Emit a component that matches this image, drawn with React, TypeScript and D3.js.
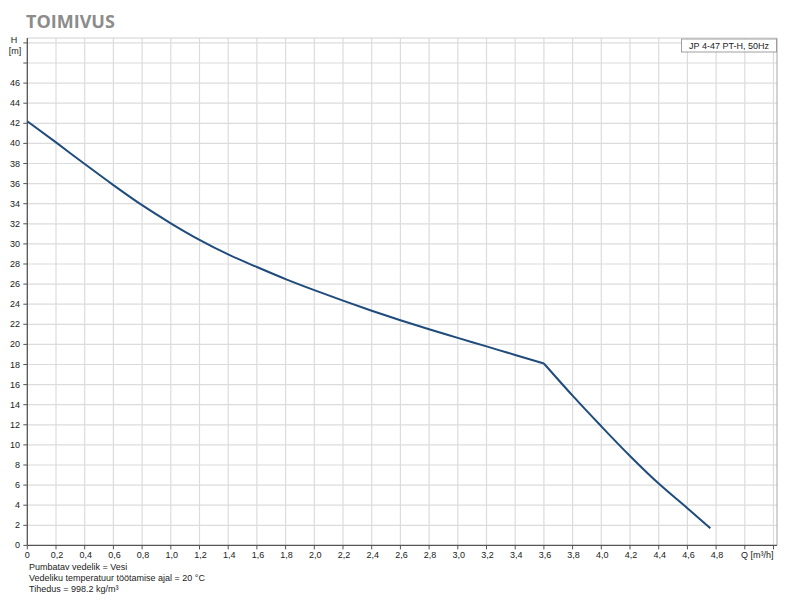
import React from "react";
import * as d3 from "d3";

const qMain = [0, 0.2, 0.4, 0.6, 0.8, 1.0, 1.2, 1.4, 1.6, 1.8, 2.0, 2.2, 2.4, 2.6, 2.8, 3.0, 3.2, 3.4, 3.6];
const hMain = [42.2, 40.1, 37.95, 35.85, 33.85, 32.05, 30.4, 28.95, 27.7, 26.5, 25.4, 24.35, 23.35, 22.4, 21.5, 20.65, 19.8, 18.95, 18.1];
const qTail = [3.6, 3.8, 4.0, 4.2, 4.4, 4.6, 4.76];
const hTail = [18.1, 14.9, 11.85, 8.9, 6.15, 3.7, 1.7];

const xTicks = [0, 0.2, 0.4, 0.6, 0.8, 1.0, 1.2, 1.4, 1.6, 1.8, 2.0, 2.2, 2.4, 2.6, 2.8, 3.0, 3.2, 3.4, 3.6, 3.8, 4.0, 4.2, 4.4, 4.6, 4.8, 5.0, 5.2];
const xLabelled = 4.8;
const yTicks = [0, 2, 4, 6, 8, 10, 12, 14, 16, 18, 20, 22, 24, 26, 28, 30, 32, 34, 36, 38, 40, 42, 44, 46, 48, 50];
const yLabelMax = 46;

const title = "TOIMIVUS";
const legendText = "JP 4-47 PT-H, 50Hz";
const notes = ["Pumbatav vedelik = Vesi", "Vedeliku temperatuur töötamise ajal = 20 °C", "Tihedus = 998.2 kg/m³"];

export default function App() {
  const left = 27.3, right = 777, top = 38, bottom = 545.4;
  const x = d3.scaleLinear().domain([0, (right - left) / 143.5]).range([left, right]);
  const y = d3.scaleLinear().domain([0, (bottom - top) / 10.05]).range([bottom, top]);
  const line = d3.line<[number, number]>().x(d => x(d[0])).y(d => y(d[1])).curve(d3.curveMonotoneX);
  const main = qMain.map((q, i) => [q, hMain[i]] as [number, number]);
  const tail = qTail.map((q, i) => [q, hTail[i]] as [number, number]);
  const font = "Liberation Sans, Arial, sans-serif";
  const fmt = (v: number) => v.toFixed(1).replace(".", ",");
  return (
    <svg width={800} height={600} style={{ position: "absolute", left: 0, top: 0, background: "#fff" }} fontFamily={font}>
      <text x={26} y={28} fontSize={18} fontWeight="bold" fill="#8c8c8c" fontFamily="Open Sans, sans-serif">{title}</text>
      {/* grid */}
      {xTicks.filter(t => t > 0).map(t => (
        <line key={"gx" + t} x1={x(t)} x2={x(t)} y1={top} y2={bottom} stroke="#dcdcdc" strokeWidth={1.2} />
      ))}
      {yTicks.filter(t => t > 0).map(t => (
        <line key={"gy" + t} x1={left} x2={right} y1={y(t)} y2={y(t)} stroke="#dcdcdc" strokeWidth={1.2} />
      ))}
      <line x1={left} x2={right} y1={top} y2={top} stroke="#d0d0d0" strokeWidth={1} />
      <line x1={right} x2={right} y1={top} y2={bottom} stroke="#a8a8a8" strokeWidth={1} />
      {/* axes */}
      <line x1={left} x2={left} y1={top} y2={bottom} stroke="#555" strokeWidth={1.3} />
      <line x1={left} x2={right} y1={bottom} y2={bottom} stroke="#555" strokeWidth={1.3} />
      {yTicks.map(t => (
        <g key={"yt" + t}>
          <line x1={left - 4} x2={left} y1={y(t)} y2={y(t)} stroke="#555" strokeWidth={1} />
          {t <= yLabelMax && (
            <text x={20} y={y(t) + 3} fontSize={9} textAnchor="end" fill="#222">{t}</text>
          )}
        </g>
      ))}
      {xTicks.map(t => (
        <g key={"xt" + t}>
          <line x1={x(t)} x2={x(t)} y1={bottom} y2={bottom + 4} stroke="#555" strokeWidth={1} />
          {t <= xLabelled + 1e-9 && (
            <text x={x(t) + (t === 0 ? 0 : 1)} y={bottom + 13} fontSize={9} textAnchor="middle" fill="#222">{t === 0 ? "0" : fmt(t)}</text>
          )}
        </g>
      ))}
      <text x={14} y={43} fontSize={9} textAnchor="middle" fill="#222">H</text>
      <text x={15} y={54} fontSize={9} textAnchor="middle" fill="#222">[m]</text>
      <text x={741} y={bottom + 13} fontSize={9} fill="#222">Q [m³/h]</text>
      {/* legend box */}
      <rect x={681.5} y={39} width={95} height={13} fill="#fff" stroke="#888" strokeWidth={0.8} />
      <text x={729} y={49} fontSize={9} textAnchor="middle" fill="#222">{legendText}</text>
      {/* curve */}
      <path d={line(main) || ""} fill="none" stroke="#1f4c7c" strokeWidth={2} />
      <path d={line(tail) || ""} fill="none" stroke="#1f4c7c" strokeWidth={2} />
      {notes.map((n, i) => (
        <text key={n} x={29} y={570 + i * 11} fontSize={9} fill="#222">{n}</text>
      ))}
    </svg>
  );
}
